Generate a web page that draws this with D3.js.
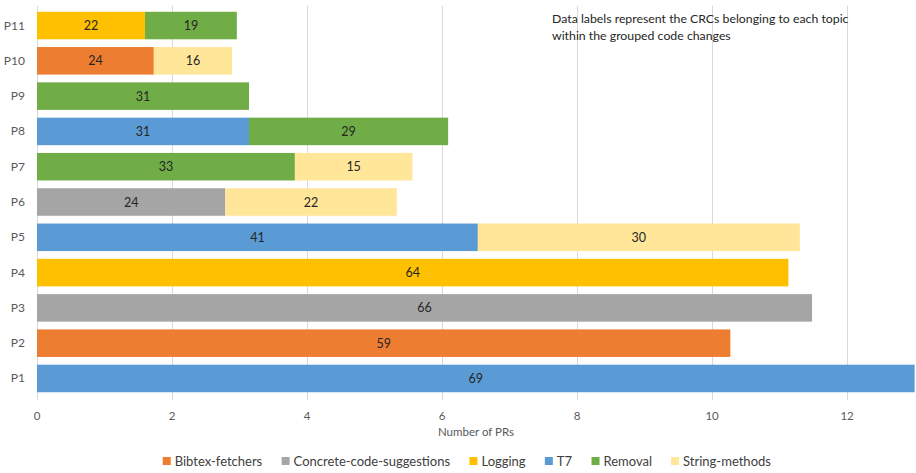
<!DOCTYPE html>
<html>
<meta charset="utf-8">
<style>
body { margin: 0; background: #fff; }
svg { font-family: Lato, "Open Sans", sans-serif; }
.grid line { stroke: #d9d9d9; }
.tick-label { font-size: 11.5px; fill: #595959; text-anchor: middle; }
.cat-label { font-size: 12px; fill: #595959; text-anchor: end; }
.bar-label { font-size: 12.5px; fill: #262626; text-anchor: middle; }
.legend text { font-size: 13px; fill: #404040; }
.note { font-size: 12.3px; fill: #262626; }
</style>
<body>
<script src="https://cdn.jsdelivr.net/npm/d3@7"></script>
<script>

// categories, top to bottom
var projects = ["P11", "P10", "P9", "P8", "P7", "P6", "P5", "P4", "P3", "P2", "P1"];

var topics = ["Bibtex-fetchers", "Concrete-code-suggestions", "Logging", "T7", "Removal", "String-methods"];
var colors = ["#ed7d31", "#a5a5a5", "#ffc000", "#5b9bd5", "#70ad47", "#ffe699"];

// number of PRs per topic, in project order above
var bibtex   = [0,    1.73, 0,    0,    0,    0,    0,    0,     0,     10.27, 0];
var concrete = [0,    0,    0,    0,    0,    2.79, 0,    0,     11.48, 0,     0];
var logging  = [1.60, 0,    0,    0,    0,    0,    0,    11.13, 0,     0,     0];
var t7       = [0,    0,    0,    3.14, 0,    0,    6.53, 0,     0,     0,     13.0];
var removal  = [1.36, 0,    3.14, 2.95, 3.82, 0,    0,    0,     0,     0,     0];
var strings  = [0,    1.16, 0,    0,    1.74, 2.54, 4.77, 0,     0,     0,     0];

// CRC counts shown as data labels
var bibtexCRC   = [0,  24, 0,  0,  0,  0,  0,  0,  0,  59, 0];
var concreteCRC = [0,  0,  0,  0,  0,  24, 0,  0,  66, 0,  0];
var loggingCRC  = [22, 0,  0,  0,  0,  0,  0,  64, 0,  0,  0];
var t7CRC       = [0,  0,  0,  31, 0,  0,  41, 0,  0,  0,  69];
var removalCRC  = [19, 0,  31, 29, 33, 0,  0,  0,  0,  0,  0];
var stringsCRC  = [0,  16, 0,  0,  15, 22, 30, 0,  0,  0,  0];

var xTicks = [0, 2, 4, 6, 8, 10, 12];

var values = [bibtex, concrete, logging, t7, removal, strings];
var crcs = [bibtexCRC, concreteCRC, loggingCRC, t7CRC, removalCRC, stringsCRC];

var rows = projects.map(function(p, i) {
  var r = { project: p };
  topics.forEach(function(t, j) { r[t] = values[j][i]; });
  return r;
});

var width = 916, height = 473;

var svg = d3.select("body").append("svg")
    .attr("width", width)
    .attr("height", height);

var x = d3.scaleLinear().domain([0, 13.02]).range([37, 916]);
var y = d3.scaleBand().domain(projects).range([4, 400]).padding(0.22);

// gridlines
svg.append("g").attr("class", "grid")
  .selectAll("line")
  .data(xTicks)
  .enter()
  .append("line")
  .attr("x1", function(d) { return Math.round(x(d)) + 0.5; })
  .attr("x2", function(d) { return Math.round(x(d)) + 0.5; })
  .attr("y1", 6)
  .attr("y2", 400);

svg.append("g")
  .selectAll("text")
  .data(xTicks)
  .enter()
  .append("text")
  .attr("class", "tick-label")
  .attr("x", function(d) { return x(d); })
  .attr("y", 420)
  .text(function(d) { return d; });

svg.append("text")
  .attr("class", "tick-label")
  .attr("x", 476)
  .attr("y", 436)
  .text("Number of PRs");

// category labels
svg.append("g")
  .selectAll("text")
  .data(projects)
  .enter()
  .append("text")
  .attr("class", "cat-label")
  .attr("x", 25)
  .attr("y", function(d) { return y(d) + y.bandwidth() / 2 + 4; })
  .text(function(d) { return d; });

var stack = d3.stack().keys(topics)(rows);

var layers = svg.append("g").selectAll("g")
  .data(stack)
  .enter()
  .append("g")
  .attr("fill", function(d, i) { return colors[i]; });

layers.selectAll("rect")
  .data(function(d) { return d.filter(function(s) { return s[1] - s[0] > 0; }); })
  .enter()
  .append("rect")
  .attr("x", function(d) { return x(d[0]); })
  .attr("width", function(d) { return x(d[1]) - x(d[0]); })
  .attr("y", function(d) { return y(d.data.project); })
  .attr("height", y.bandwidth());

layers.each(function(layer, j) {
  d3.select(this).selectAll("text")
    .data(layer.filter(function(s) { return s[1] - s[0] > 0; }))
    .enter()
    .append("text")
    .attr("class", "bar-label")
    .attr("x", function(d) { return (x(d[0]) + x(d[1])) / 2; })
    .attr("y", function(d) { return y(d.data.project) + y.bandwidth() / 2 + 4.5; })
    .text(function(d) { return crcs[j][projects.indexOf(d.data.project)]; });
});

// note
var note = svg.append("text").attr("class", "note").attr("x", 552).attr("y", 23);
note.append("tspan").attr("x", 552).text("Data labels represent the CRCs belonging to each topic");
note.append("tspan").attr("x", 552).attr("dy", 17).text("within the grouped code changes");

// legend
var legend = svg.append("g").attr("class", "legend");
var items = legend.selectAll("g")
  .data(topics)
  .enter()
  .append("g");

items.append("rect")
  .attr("width", 8)
  .attr("height", 8)
  .attr("y", 457)
  .attr("fill", function(d, i) { return colors[i]; });

items.append("text")
  .attr("x", 12)
  .attr("y", 466)
  .text(function(d) { return d; });

var pos = 0, offsets = [];
items.each(function() {
  offsets.push(pos);
  pos += this.getBBox().width + 19;
});
var total = pos - 19;
var start = 467 - total / 2;
items.attr("transform", function(d, i) { return "translate(" + (start + offsets[i]) + ",0)"; });

</script>
</body>
</html>
